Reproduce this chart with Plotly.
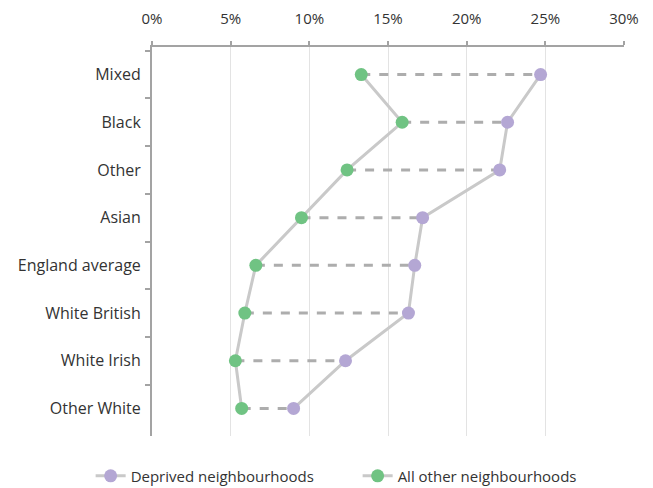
import plotly.graph_objects as go

categories = ["Mixed", "Black", "Other", "Asian", "England average",
              "White British", "White Irish", "Other White"]
deprived = [24.7, 22.6, 22.1, 17.2, 16.7, 16.3, 12.3, 9.0]
other = [13.3, 15.9, 12.4, 9.5, 6.6, 5.9, 5.3, 5.7]
x_ticks = [0, 5, 10, 15, 20, 25, 30]

PURPLE = "#b4a7d4"
GREEN = "#70c383"
LINE = "#c9c9c9"
DASH = "#adadad"
AXIS = "#a3a3a3"
TEXT = "#333333"

fig = go.Figure()

# dashed connectors between pairs
dx, dy = [], []
for c, a, b in zip(categories, other, deprived):
    dx += [a / 100, b / 100, None]
    dy += [c, c, None]
fig.add_trace(go.Scatter(x=dx, y=dy, mode="lines", showlegend=False,
                         line=dict(color=DASH, width=3, dash="dash"),
                         hoverinfo="skip"))

fig.add_trace(go.Scatter(x=[v / 100 for v in deprived], y=categories,
                         mode="lines+markers", name="Deprived neighbourhoods",
                         line=dict(color=LINE, width=3),
                         marker=dict(color=PURPLE, size=13)))
fig.add_trace(go.Scatter(x=[v / 100 for v in other], y=categories,
                         mode="lines+markers", name="All other neighbourhoods",
                         line=dict(color=LINE, width=3),
                         marker=dict(color=GREEN, size=13)))

fig.update_layout(
    width=653, height=488,
    margin=dict(l=152, r=29, t=47, b=52, autoexpand=False),
    plot_bgcolor="white", paper_bgcolor="white",
    font=dict(family="Open Sans", size=15, color=TEXT),
    legend=dict(orientation="h", x=-0.13, xanchor="left",
                y=-0.103, yanchor="middle",
                font=dict(size=15, color=TEXT),
                entrywidth=222, entrywidthmode="pixels",
                traceorder="normal"),
)
fig.update_xaxes(side="top", range=[0, 0.30], tickvals=[t / 100 for t in x_ticks],
                 ticktext=[f"{t}%" for t in x_ticks],
                 showline=True, linecolor=AXIS, linewidth=2,
                 ticks="outside", ticklen=4, tickcolor=AXIS, tickwidth=2,
                 showgrid=True, gridcolor="#e3e3e3", gridwidth=1,
                 zeroline=False, fixedrange=True, ticklabelstandoff=11)
fig.update_yaxes(type="category", categoryorder="array", categoryarray=categories,
                 autorange="reversed", tickson="boundaries",
                 showline=True, linecolor=AXIS, linewidth=2,
                 ticks="outside", ticklen=5, tickcolor=AXIS, tickwidth=2,
                 tickfont=dict(size=16),
                 showgrid=False, zeroline=False, ticklabelstandoff=6,
                 fixedrange=True)

fig.write_html("out.html", config={"displayModeBar": False},
               post_script="document.body.style.margin='0';")
